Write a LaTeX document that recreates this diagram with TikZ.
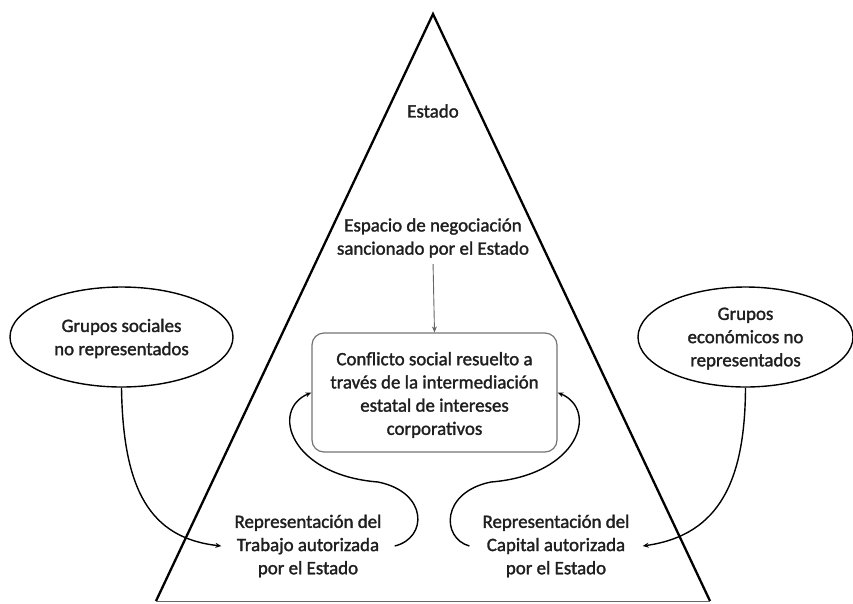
\documentclass[tikz,border=0pt]{standalone}
\usepackage{fontspec}
\setmainfont{Carlito}[FakeBold=1.6]
\usetikzlibrary{shapes.geometric,arrows.meta}
\tikzset{
  txt/.style={align=center,font=\fontsize{18.9}{23.2}\selectfont,text=black!88},
  oval/.style={ellipse,draw=black,line width=1.4pt,minimum width=223pt,minimum height=100pt,inner sep=0pt},
  curv/.style={line width=1.4pt,-{Stealth[length=6pt,width=5pt]}},
}
\begin{document}
\begin{tikzpicture}[x=1pt,y=-1pt]
\useasboundingbox (0,0) rectangle (853,603);
% triangle
\coordinate (apex) at (433,14);
\coordinate (bl) at (156,601);
\coordinate (br) at (710,601);
\draw[line width=2.3pt,line join=miter] (bl) -- (apex) -- (br);
\draw[line width=1pt,black!60] (bl) -- (br);
% texts
\node[txt] (estado) at (433,111) {Estado};
\node[txt] (esp) at (433,238) {Espacio de negociación\\sancionado por el Estado};
\node[draw=black!55,line width=1.2pt,rounded corners=12pt,minimum width=245pt,minimum height=119pt] (box) at (434.5,392.5) {};
\node[txt] (boxt) at (434.5,395) {Conflicto social resuelto a\\través de la intermediación\\estatal de intereses\\corporativos};
\node[oval] (lg) at (121.5,337) {};
\node[txt] at (121.5,338.5) {Grupos sociales\\no representados};
\node[oval,minimum width=215pt] (rg) at (745.5,337) {};
\node[txt] at (745.5,338.5) {Grupos\\económicos no\\representados};
\node[txt,inner xsep=13pt] (lt) at (308,546) {Representación del\\Trabajo autorizada\\por el Estado};
\node[txt,inner xsep=13pt] (rt) at (556,546) {Representación del\\Capital autorizada\\por el Estado};
% connectors
\draw[black!60,line width=0.9pt,-{Stealth[length=6pt,width=5pt]},shorten <=3pt] (esp.south) -- (box.north);
\draw[curv] (lg.south) .. controls (123,490) and (150,538) .. (lt.west);
\draw[curv] (rg.south) .. controls (745,480) and (720,535) .. (rt.east);
\draw[curv] (lt.east) .. controls (428,538) and (428,492) .. (378,482) .. controls (290,475) and (270,410) .. (box.west);
\draw[curv] (rt.west) .. controls (441,538) and (441,492) .. (491,482) .. controls (579,475) and (599,410) .. (box.east);
\end{tikzpicture}
\end{document}
